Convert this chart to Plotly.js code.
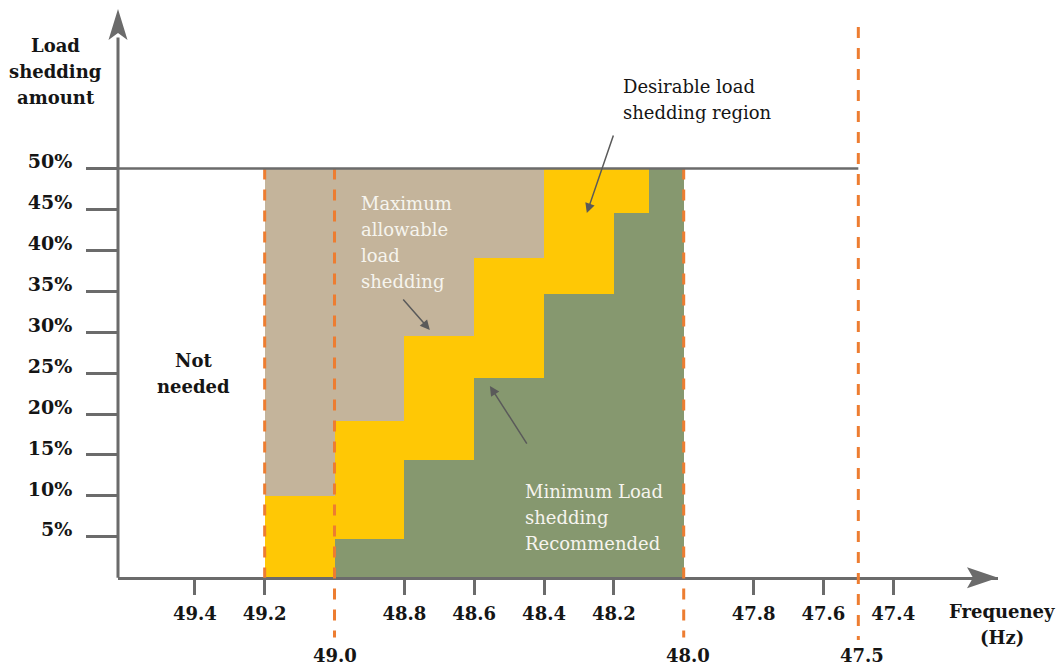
<!DOCTYPE html>
<html><head><meta charset="utf-8">
<script src="https://cdn.plot.ly/plotly-3.0.1.min.js"></script>
<style>html,body{margin:0;padding:0;background:#fff}#chart{width:1059px;height:666px}</style>
</head><body><div id="chart"></div>
<script>
// ---- data ----
// frequency step edges (Hz), from high to low
const stepEdges = [49.2, 49.0, 48.8, 48.6, 48.4, 48.2, 48.1, 48.0];
// minimum load shedding recommended (top of green region, %)
const minimumShedding = [0, 4.7, 14.4, 24.4, 34.7, 44.6, 50];
// upper bound of the desirable region (top of yellow region, %)
const desirableTop = [10, 19.1, 29.5, 39.1, 50, 50, 50];
// maximum allowable load shedding (%)
const maximumShedding = 50;
// threshold frequencies drawn as dashed lines
const thresholdFreqs = [49.2, 49.0, 48.0, 47.5];
const lowerLabelFreqs = [49.0, 48.0, 47.5];
const lowerLabelText = ['49.0', '48.0', '47.5'];
const xTickVals = [49.4, 49.2, 48.8, 48.6, 48.4, 48.2, 47.8, 47.6, 47.4];
const xTickText = ['49.4', '49.2', '48.8', '48.6', '48.4', '48.2', '47.8', '47.6', '47.4'];
const yTickVals = [5, 10, 15, 20, 25, 30, 35, 40, 45, 50];
const yTickText = ['5%', '10%', '15%', '20%', '25%', '30%', '35%', '40%', '45%', '50%'];

// ---- styling ----
const SERIF = 'DejaVu Serif, Liberation Serif, serif';
const AX = '#6b6b6b';
const ORANGE = '#ED7D31';
const TAN = '#C4B49B', YELLOW = '#FFC805', GREEN = '#86986F';
const DARK = '#151515', LIGHT = '#F6F4EE';
const X_RANGE = [49.62, 47.10];
const Y_RANGE = [-10.79, 69.49];

const mids = [], widths = [];
for (let i = 0; i < stepEdges.length - 1; i++) {
  mids.push((stepEdges[i] + stepEdges[i + 1]) / 2);
  widths.push(Math.abs(stepEdges[i] - stepEdges[i + 1]));
}
const barBase = {type: 'bar', x: mids, width: widths, hoverinfo: 'skip', showlegend: false};
const traces = [
  Object.assign({}, barBase, {base: desirableTop, y: desirableTop.map(v => maximumShedding - v), marker: {color: TAN, line: {width: 0}}}),
  Object.assign({}, barBase, {base: minimumShedding, y: desirableTop.map((v, i) => v - minimumShedding[i]), marker: {color: YELLOW, line: {width: 0}}}),
  Object.assign({}, barBase, {base: minimumShedding.map(() => 0), y: minimumShedding, marker: {color: GREEN, line: {width: 0}}})
];

const shapes = [];
// dashed threshold lines
thresholdFreqs.forEach(f => {
  const top = f === 47.5 ? 67.3 : maximumShedding;
  const bottom = f === 49.2 ? 0 : (f === 47.5 ? -7.6 : -7.3);
  shapes.push({type: 'line', xref: 'x', yref: 'y', x0: f, x1: f, y0: top, y1: bottom,
    line: {color: ORANGE, width: 3, dash: '11px,10px'}, layer: 'above'});
});
// 50% line
shapes.push({type: 'line', xref: 'x', yref: 'y', x0: X_RANGE[0], x1: 47.5, y0: 50, y1: 50,
  line: {color: AX, width: 2.5}, layer: 'above'});
// y axis line
shapes.push({type: 'line', xref: 'paper', yref: 'y', x0: 0, x1: 0, y0: 0, y1: 66,
  line: {color: AX, width: 3}, layer: 'above'});
// arrow heads
shapes.push({type: 'path', xref: 'paper', yref: 'paper', xsizemode: 'pixel', ysizemode: 'pixel',
  xanchor: 0, yanchor: 1, path: 'M0,0 L-9.5,-31 L0,-24 L9.5,-31 Z', fillcolor: AX, line: {width: 0}, layer: 'above'});
shapes.push({type: 'path', xref: 'paper', yref: 'y', xsizemode: 'pixel', ysizemode: 'pixel',
  xanchor: 1, yanchor: 0, path: 'M0,0 L-31,10.5 L-25,0 L-31,-10.5 Z', fillcolor: AX, line: {width: 0}, layer: 'above'});

const annotations = [];
function addLines(lines, opts) {
  lines.forEach((t, i) => {
    annotations.push(Object.assign({
      text: t, showarrow: false, yanchor: 'middle', yshift: -i * 26
    }, opts, {font: Object.assign({family: SERIF, size: 18, color: DARK}, opts.font || {})}));
  });
}
const bold = {weight: 'bold', color: DARK};
addLines(['Load', 'shedding', 'amount'], {xref: 'paper', yref: 'y', x: -0.0705, y: 64.97, xanchor: 'center', font: bold});
addLines(['Not', 'needed'], {xref: 'x', yref: 'y', x: 49.403, y: 26.59, xanchor: 'center', font: bold});
addLines(['Frequeney', '(Hz)'], {xref: 'paper', yref: 'y', x: 1.0045, y: -4.19, xanchor: 'center', font: bold});
addLines(['Maximum', 'allowable', 'load', 'shedding'], {xref: 'x', yref: 'y', x: 48.93, y: 45.78, xanchor: 'left', font: {color: LIGHT}});
addLines(['Minimum Load', 'shedding', 'Recommended'], {xref: 'x', yref: 'y', x: 48.461, y: 10.59, xanchor: 'left', font: {color: LIGHT}});
addLines(['Desirable load', 'shedding region'], {xref: 'x', yref: 'y', x: 48.18, y: 59.96, xanchor: 'left', font: {color: DARK}});
lowerLabelFreqs.forEach((f, i) => {
  annotations.push({xref: 'x', yref: 'y', x: f, y: -9.45, text: lowerLabelText[i], showarrow: false,
    xanchor: 'center', yanchor: 'middle', xshift: f === 49.0 ? 0 : 4,
    font: {family: SERIF, size: 18, color: DARK, weight: 'bold'}});
});
// pointer arrows
const arrowStyle = {showarrow: true, text: '', arrowhead: 2, arrowsize: 1.3, arrowwidth: 1.5, arrowcolor: '#5a5a5a',
  xref: 'x', yref: 'y', axref: 'x', ayref: 'y', standoff: 0};
annotations.push(Object.assign({}, arrowStyle, {x: 48.2775, y: 44.56, ax: 48.200, ay: 54.21}));
annotations.push(Object.assign({}, arrowStyle, {x: 48.727, y: 30.27, ax: 48.807, ay: 34.18}));
annotations.push(Object.assign({}, arrowStyle, {x: 48.555, y: 23.42, ax: 48.4465, ay: 16.21}));

const layout = {
  width: 1059, height: 666,
  margin: {l: 118, r: 61, t: 9, b: 0},
  paper_bgcolor: '#ffffff', plot_bgcolor: 'rgba(0,0,0,0)',
  showlegend: false, barmode: 'overlay', bargap: 0,
  xaxis: {range: X_RANGE, anchor: 'free', position: 0.1344, showline: true, linewidth: 3, linecolor: AX,
    ticks: 'outside', ticklen: 15, tickwidth: 3, tickcolor: AX, tickvals: xTickVals, ticktext: xTickText,
    tickfont: {family: SERIF, size: 18, color: DARK, weight: 'bold'}, showgrid: false, zeroline: false,
    ticklabelstandoff: 4, fixedrange: true},
  yaxis: {range: Y_RANGE, showline: false, ticks: 'outside', ticklen: 31, tickwidth: 3, tickcolor: AX,
    tickvals: yTickVals, ticktext: yTickText, tickfont: {family: SERIF, size: 19, color: DARK, weight: 'bold'},
    showgrid: false, zeroline: false, ticklabelstandoff: 10, ticklabelshift: -7, fixedrange: true},
  shapes: shapes, annotations: annotations
};
Plotly.newPlot('chart', traces, layout, {displayModeBar: false, staticPlot: true});
</script>
</body></html>
